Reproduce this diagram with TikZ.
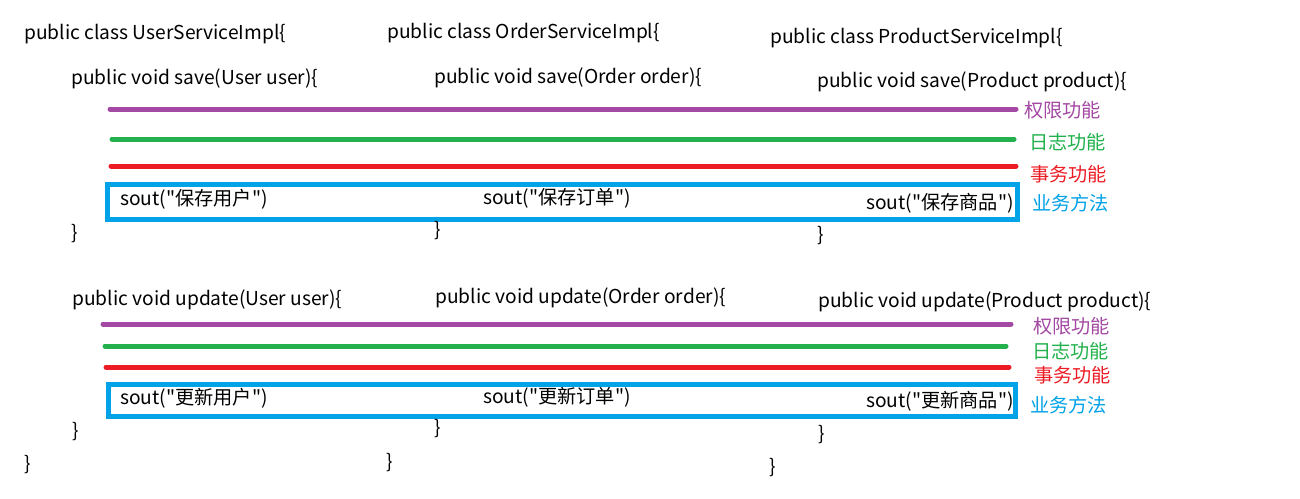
\documentclass[tikz,border=0pt]{standalone}
\usepackage{fontspec}
\setmainfont{Noto Sans CJK SC}[Ligatures=TeXOff]
\usepackage{tikz}
\usetikzlibrary{positioning}
\definecolor{authpurple}{HTML}{A349A4}
\definecolor{loggreen}{HTML}{22B14C}
\definecolor{txred}{HTML}{ED1C24}
\definecolor{bizblue}{HTML}{00A2E8}

\begin{document}
\begin{tikzpicture}[x=1pt, y=-1pt,
  code/.style={anchor=west, inner sep=0pt, yshift=-1.5pt, font=\fontsize{19.2}{22}\selectfont},
  tag/.style={anchor=west, inner sep=0pt, yshift=-1.5pt, font=\fontsize{19.2}{22}\selectfont},
  aspect/.style={line width=5pt, line cap=round},
  bizbox/.style={draw=bizblue, line width=5pt},
]
\useasboundingbox[fill=white] (0,0) rectangle (1300,498);
% class headers
\node[code] (cu) at (24,33) {public class UserServiceImpl\{};
\node[code] (co) at (387,32) {public class OrderServiceImpl\{};
\node[code] (cp) at (770,37) {public class ProductServiceImpl\{};
% save methods
\node[code] (su) at (71,77) {public void save(User user)\{};
\node[code] (so) at (434,76) {public void save(Order order)\{};
\node[code] (sp) at (817,80) {public void save(Product product)\{};
\draw[aspect, authpurple] (110,109) -- (1016,109);
\draw[aspect, loggreen] (112,139) -- (1014,139);
\draw[aspect, txred] (111,166) -- (1016,166);
\draw[bizbox] (107,184) rectangle (1017,219);
\node[code] (bu) at (120,198) {sout("保存用户")};
\node[code] (bo) at (483,197) {sout("保存订单")};
\node[code] (bp) at (866,202) {sout("保存商品")};
\node[code] (eu) at (71,232) {\}};
\node[code] (eo) at (434,229) {\}};
\node[code] (ep) at (817,234) {\}};
\node[tag, text=authpurple] (ta) at (1024,109) {权限功能};
\node[tag, text=loggreen] (tl) at (1029,141) {日志功能};
\node[tag, text=txred] (tt) at (1030,173) {事务功能};
\node[tag, text=bizblue] (tb) at (1032,202) {业务方法};
% update methods
\node[code] (uu) at (72,298) {public void update(User user)\{};
\node[code] (uo) at (435,296) {public void update(Order order)\{};
\node[code] (up) at (818,300) {public void update(Product product)\{};
\draw[aspect, authpurple] (103,324) -- (1011,324);
\draw[aspect, loggreen] (105,346) -- (1006,346);
\draw[aspect, txred] (106,367) -- (1009,367);
\draw[bizbox] (108,384) rectangle (1015,416);
\node[code] (nu) at (120,397) {sout("更新用户")};
\node[code] (no) at (483,396) {sout("更新订单")};
\node[code] (np) at (866,400) {sout("更新商品")};
\node[code] (fu) at (72,430) {\}};
\node[code] (fo) at (434,427) {\}};
\node[code] (fp) at (818,433) {\}};
\node[tag, text=authpurple] (ua) at (1033,325) {权限功能};
\node[tag, text=loggreen] (ul) at (1032,350) {日志功能};
\node[tag, text=txred] (ut) at (1034,374) {事务功能};
\node[tag, text=bizblue] (ub) at (1030,404) {业务方法};
% class ends
\node[code] (zu) at (24,463) {\}};
\node[code] (zo) at (386,461) {\}};
\node[code] (zp) at (769,466) {\}};
\end{tikzpicture}
\end{document}
